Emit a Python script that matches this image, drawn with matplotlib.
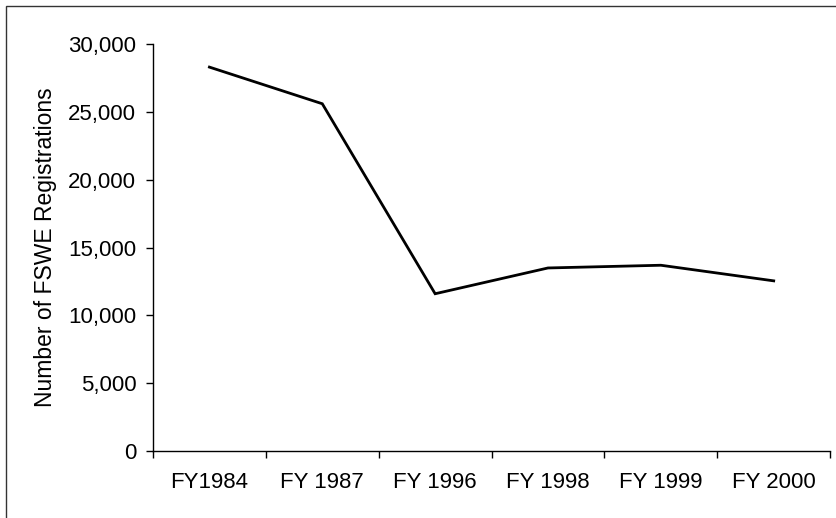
import matplotlib.pyplot as plt
import matplotlib.ticker as mticker
from matplotlib.patches import Rectangle
import numpy as np

plt.rcParams['font.family'] = ['Liberation Sans', 'DejaVu Sans']

# Data
years = ['FY1984', 'FY 1987', 'FY 1996', 'FY 1998', 'FY 1999', 'FY 2000']
registrations = [28300, 25600, 11600, 13500, 13700, 12550]


def main():
    fig = plt.figure(figsize=(8.36, 5.18), dpi=100)
    ax = fig.add_axes([0.183, 0.129, 0.810, 0.786])

    x = np.arange(len(years))
    ax.plot(x, registrations, color='black', linewidth=2.0, solid_joinstyle='miter')

    ax.set_xlim(-0.5, len(years) - 0.5)
    ax.set_ylim(0, 30000)
    ax.yaxis.set_major_locator(mticker.MultipleLocator(5000))
    ax.yaxis.set_major_formatter(mticker.FuncFormatter(lambda v, p: f'{int(v):,}'))

    # tick marks between categories, labels at category centers
    ax.set_xticks(np.arange(len(years) + 1) - 0.5)
    ax.set_xticklabels([])
    ax.set_xticks(x, minor=True)
    ax.set_xticklabels(years, minor=True)
    ax.tick_params(axis='x', which='major', length=5, width=1, direction='out')
    ax.tick_params(axis='x', which='minor', length=0, pad=15, labelsize=16)
    ax.tick_params(axis='y', length=5, width=1, direction='out', pad=7, labelsize=16)

    for side in ['top', 'right']:
        ax.spines[side].set_visible(False)
    ax.spines['left'].set_linewidth(1)
    ax.spines['bottom'].set_linewidth(1)

    ax.set_ylabel('Number of FSWE Registrations', fontsize=16.5, labelpad=8)

    # chart frame (cut off at the right and bottom of the image)
    fig.patches.append(Rectangle((6 / 836, -0.02), 1.0, 1 - 6 / 518 + 0.02,
                                 transform=fig.transFigure, fill=False,
                                 edgecolor='#333333', linewidth=1.0))

    fig.savefig('out.png', dpi=100)
    plt.close()


if __name__ == '__main__':
    main()
